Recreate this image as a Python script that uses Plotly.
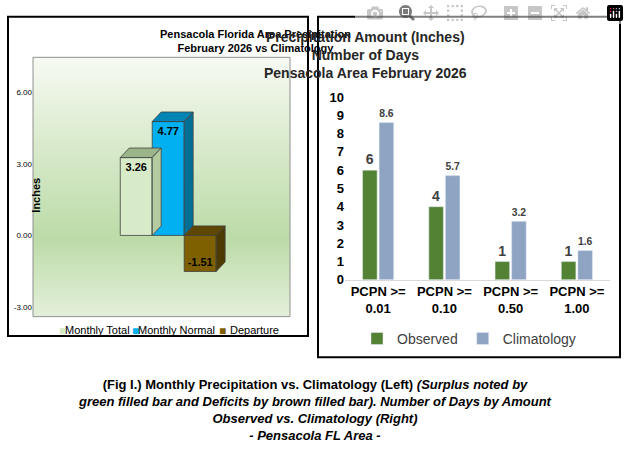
import plotly.graph_objects as go

W, H = 629, 462

# --- data ---
left_names = ["Monthly Total", "Monthly Normal", "Departure"]
left_values = [3.26, 4.77, -1.51]
left_front = ["#d8ebc8", "#00b0f0", "#7f6000"]
left_top = ["#9cb48a", "#0085b5", "#5e4700"]
left_side = ["#b4ca9f", "#006f96", "#4d3a00"]
left_ticks = [-3, 0, 3, 6]

days_cats = ["PCPN >=<br>0.01", "PCPN >=<br>0.10", "PCPN >=<br>0.50", "PCPN >=<br>1.00"]
days_observed = [6, 4, 1, 1]
days_clim = [8.6, 5.7, 3.2, 1.6]

FONT = "Liberation Sans Narrow, Arial"


def px(x):
    return x / W


def py(y):
    return 1 - y / H


fig = go.Figure()

# left plot area background gradient (on its own axes, drawn underneath)
xr = [-3.23, 4.81]
yr = [-3.4, 7.46]
fig.add_trace(go.Scatter(
    x=[0, 1, 1, 0, 0], y=[0, 0, 1, 1, 0],
    fill="toself", mode="none", hoverinfo="skip", showlegend=False,
    fillgradient=dict(type="vertical", colorscale=[[0, "#e4f0da"], [0.3, "#bcdba8"], [0.7, "#dcecd0"], [1, "#f7faf3"]]),
    xaxis="x3", yaxis="y3"))

dx, dy = 0.28, 0.4
shapes = []
for t in left_ticks:
    shapes.append(dict(type="line", xref="x", yref="y", x0=xr[0] + 0.6, x1=xr[0] + 0.6 + 0.85,
                       y0=t, y1=t + 0.7, line=dict(color="#404040", width=1), layer="below"))
    shapes.append(dict(type="line", xref="x", yref="y", x0=xr[0] + 1.45, x1=xr[1],
                       y0=t + 0.7, y1=t + 0.7, line=dict(color="#404040", width=1), layer="below"))

for i, (v, ft, tp, sd) in enumerate(zip(left_values, left_front, left_top, left_side)):
    fig.add_trace(go.Bar(x=[i], y=[v], width=1, offset=-0.5, name=left_names[i], marker_color=ft,
                         marker_line=dict(color="#404040", width=0.8),
                         text=[f"<b>{v:.2f}</b>"], textposition="inside", insidetextanchor="end",
                         textangle=0,
                         textfont=dict(size=11, color="black", family=FONT),
                         xaxis="x", yaxis="y", showlegend=False))
    top = max(v, 0)
    bot = min(v, 0)
    shapes.append(dict(type="path", xref="x", yref="y", fillcolor=tp, line=dict(color="#404040", width=0.8),
                       path=f"M {i-0.5},{top} L {i-0.5+dx},{top+dy} L {i+0.5+dx},{top+dy} L {i+0.5},{top} Z"))
    shapes.append(dict(type="path", xref="x", yref="y", fillcolor=sd, line=dict(color="#404040", width=0.8),
                       path=f"M {i+0.5},{bot} L {i+0.5+dx},{bot+dy} L {i+0.5+dx},{top+dy} L {i+0.5},{top} Z"))

# right chart
fig.add_trace(go.Bar(x=days_cats, y=days_observed, name="Observed", marker_color="#548235",
                     text=[f"<b>{v}</b>" for v in days_observed], textposition="outside",
                     textfont=dict(size=14, color="#404040", family="Liberation Sans, Arial"),
                     xaxis="x2", yaxis="y2", cliponaxis=False))
fig.add_trace(go.Bar(x=days_cats, y=days_clim, name="Climatology", marker_color="#8ea4c2",
                     text=[f"<b>{v}</b>" for v in days_clim], textposition="outside",
                     textfont=dict(size=14, color="#404040", family="Liberation Sans, Arial"),
                     xaxis="x2", yaxis="y2", cliponaxis=False))

# panel boxes
shapes.append(dict(type="rect", xref="paper", yref="paper", x0=px(8), x1=px(308), y0=py(340), y1=py(10),
                   line=dict(color="black", width=2)))
shapes.append(dict(type="rect", xref="paper", yref="paper", x0=px(33), x1=px(290), y0=py(320), y1=py(52),
                   line=dict(color="#909090", width=1)))
shapes.append(dict(type="rect", xref="paper", yref="paper", x0=px(318), x1=px(620), y0=py(362), y1=py(10),
                   line=dict(color="black", width=2)))

ann = []
ann.append(dict(text="<b>Pensacola Florida Area Precipitation<br>February 2026 vs Climatology</b>",
                x=px(158), y=py(35), xref="paper", yref="paper", showarrow=False, yanchor="middle",
                font=dict(size=11, family=FONT, color="black")))
ann.append(dict(text="<b>Inches</b>", x=px(28), y=py(195), xref="paper", yref="paper", showarrow=False,
                textangle=-90, yanchor="middle", font=dict(size=11, family=FONT, color="black")))
lx = [57, 130, 222]
for name, col, x in zip(left_names, left_front, lx):
    ann.append(dict(text="\u25a0", x=px(x), y=py(334), xref="paper", yref="paper", showarrow=False,
                    yanchor="middle", font=dict(size=12, color=col)))
    ann.append(dict(text=name, x=px(x + 6), y=py(334), xref="paper", yref="paper", showarrow=False,
                    xanchor="left", yanchor="middle", font=dict(size=11, family=FONT, color="black")))
ann.append(dict(text="<b>Precipitation Amount (Inches)<br>Number of Days<br>Pensacola Area February 2026</b>",
                x=px(469), y=py(50), xref="paper", yref="paper", showarrow=False, yanchor="middle",
                font=dict(size=14, family=FONT, color="#262626")))
ann.append(dict(
    text="<b>(Fig I.) Monthly Precipitation vs. Climatology (Left) <i>(Surplus noted by</i><br>"
         "<i>green filled bar and Deficits by brown filled bar). Number of Days by Amount</i><br>"
         "<i>Observed vs. Climatology (Right)</i><br><i>- Pensacola FL Area -</i></b>",
    x=px(315), y=py(417), xref="paper", yref="paper", showarrow=False, yanchor="middle",
    font=dict(size=13, family=FONT, color="black")))

fig.update_layout(
    width=W, height=H, margin=dict(l=0, r=0, t=0, b=0),
    paper_bgcolor="white", plot_bgcolor="rgba(0,0,0,0)",
    shapes=shapes, annotations=ann, barmode="group", bargap=0.5, bargroupgap=0.12,
    xaxis3=dict(domain=[px(33), px(290)], range=[0, 1], visible=False),
    yaxis3=dict(domain=[py(320), py(52)], range=[0, 1], visible=False, anchor="x3"),
    xaxis=dict(domain=[px(33), px(290)], range=xr, visible=False, overlaying="x3"),
    yaxis=dict(domain=[py(320), py(52)], range=yr, tickvals=left_ticks, overlaying="y3",
               ticktext=[f"{t:.2f}" for t in left_ticks], showgrid=False, zeroline=False,
               ticks="", tickfont=dict(size=8, color="black", family=FONT)),
    xaxis2=dict(domain=[px(345), px(610)], anchor="y2", showline=True, linecolor="#d9d9d9",
                tickfont=dict(size=13, color="black", family=FONT)),
    yaxis2=dict(domain=[py(282), py(93)], range=[0, 10], dtick=1, anchor="x2", showgrid=False,
                zeroline=False, tickfont=dict(size=13, color="black", family=FONT)),
    legend=dict(orientation="h", x=px(469), xanchor="center", y=py(343), yanchor="middle",
                font=dict(size=14, color="#404040", family=FONT)),
)
fig.update_xaxes(tickprefix="<b>", ticksuffix="</b>", selector=dict(anchor="y2"))
fig.update_yaxes(tickprefix="<b>", ticksuffix="</b>", selector=dict(anchor="x2"))

fig.write_html("out.html", post_script="document.body.style.margin='0';")
